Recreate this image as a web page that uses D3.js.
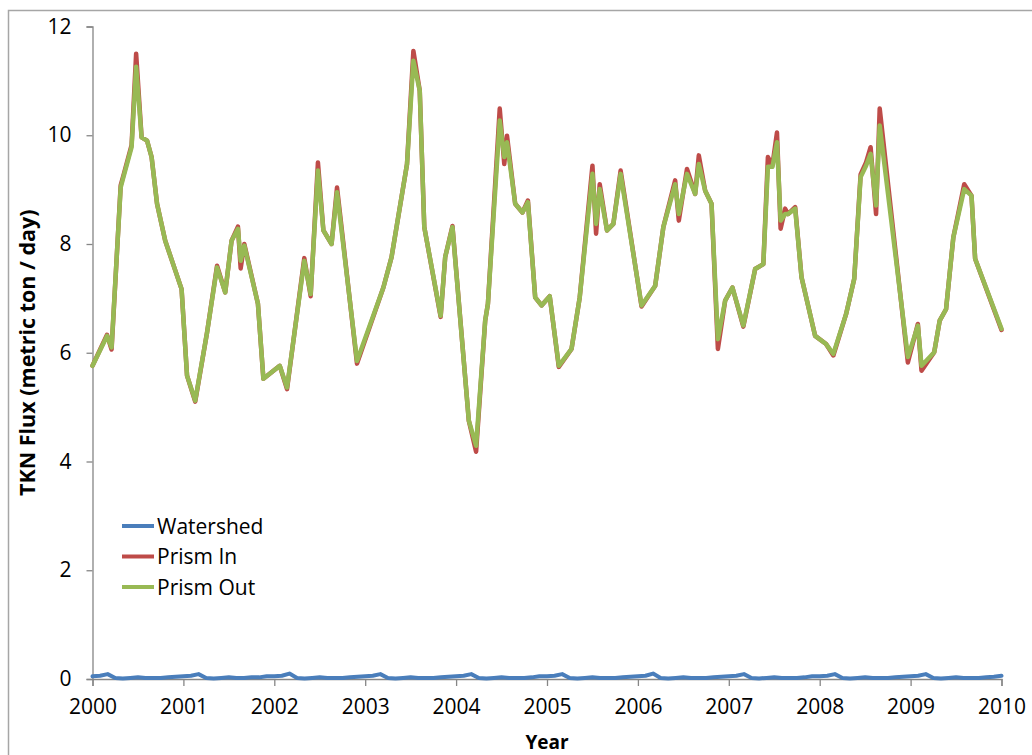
<!DOCTYPE html>
<html>
<head>
<meta charset="utf-8">
<script src="https://cdn.jsdelivr.net/npm/d3@7/dist/d3.min.js"></script>
<style>
  html, body { margin: 0; padding: 0; background: #fff; }
  svg { display: block; }
  text { font-family: "Open Sans", "Lato", sans-serif; fill: #000; }
</style>
</head>
<body>
<svg id="chart" width="1032" height="755"></svg>
<script>
// Decimal-year sample times for the Prism series
const prismDates = [
  2000.00, 2000.16, 2000.21, 2000.31, 2000.34, 2000.43, 2000.48, 2000.54, 2000.60, 2000.65,
  2000.71, 2000.80, 2000.98, 2001.04, 2001.13, 2001.26, 2001.37, 2001.46, 2001.53, 2001.60,
  2001.63, 2001.67, 2001.82, 2001.88, 2002.06, 2002.14, 2002.33, 2002.40, 2002.48, 2002.54,
  2002.63, 2002.69, 2002.91, 2003.20, 2003.29, 2003.46, 2003.53, 2003.60, 2003.65, 2003.83,
  2003.88, 2003.96, 2004.14, 2004.22, 2004.32, 2004.35, 2004.48, 2004.53, 2004.56, 2004.65,
  2004.73, 2004.79, 2004.87, 2004.94, 2005.03, 2005.13, 2005.27, 2005.36, 2005.50, 2005.54,
  2005.58, 2005.66, 2005.73, 2005.81, 2006.04, 2006.19, 2006.28, 2006.41, 2006.45, 2006.54,
  2006.63, 2006.67, 2006.74, 2006.81, 2006.88, 2006.96, 2007.04, 2007.16, 2007.29, 2007.38,
  2007.43, 2007.48, 2007.53, 2007.57, 2007.62, 2007.65, 2007.73, 2007.80, 2007.95, 2008.07,
  2008.15, 2008.29, 2008.38, 2008.45, 2008.51, 2008.56, 2008.62, 2008.66, 2008.97, 2009.08,
  2009.12, 2009.26, 2009.32, 2009.39, 2009.47, 2009.59, 2009.67, 2009.71, 2010.00
];

// TKN flux entering the prism (metric ton / day)
const prismIn = [
  5.76, 6.33, 6.06, 9.08, 9.26, 9.82, 11.50, 9.96, 9.90, 9.60,
  8.74, 8.06, 7.17, 5.58, 5.10, 6.37, 7.60, 7.11, 8.06, 8.32,
  7.55, 8.00, 6.90, 5.52, 5.76, 5.33, 7.74, 7.04, 9.50, 8.25,
  8.00, 9.04, 5.80, 7.20, 7.76, 9.47, 11.55, 10.82, 8.31, 6.66,
  7.76, 8.33, 4.75, 4.18, 6.59, 6.90, 10.49, 9.47, 9.99, 8.74,
  8.58, 8.80, 7.02, 6.87, 7.04, 5.74, 6.07, 7.02, 9.44, 8.19,
  9.10, 8.25, 8.37, 9.35, 6.85, 7.23, 8.31, 9.17, 8.43, 9.38,
  8.92, 9.63, 8.98, 8.74, 6.07, 6.96, 7.20, 6.48, 7.54, 7.63,
  9.60, 9.45, 10.05, 8.28, 8.65, 8.55, 8.68, 7.39, 6.31, 6.16,
  5.95, 6.71, 7.36, 9.28, 9.50, 9.78, 8.55, 10.49, 5.82, 6.53,
  5.67, 6.01, 6.59, 6.80, 8.12, 9.10, 8.89, 7.73, 6.42
];

// TKN flux leaving the prism (metric ton / day)
const prismOut = [
  5.76, 6.31, 6.10, 9.04, 9.23, 9.78, 11.26, 9.96, 9.90, 9.60,
  8.74, 8.06, 7.17, 5.58, 5.12, 6.37, 7.57, 7.11, 8.06, 8.28,
  7.69, 7.97, 6.90, 5.52, 5.76, 5.36, 7.69, 7.08, 9.35, 8.25,
  8.00, 8.95, 5.85, 7.20, 7.76, 9.47, 11.37, 10.82, 8.31, 6.68,
  7.76, 8.31, 4.75, 4.29, 6.59, 6.90, 10.27, 9.60, 9.87, 8.74,
  8.58, 8.77, 7.02, 6.87, 7.04, 5.76, 6.07, 7.02, 9.29, 8.37,
  9.01, 8.25, 8.37, 9.29, 6.87, 7.23, 8.31, 9.10, 8.55, 9.29,
  8.92, 9.47, 8.98, 8.74, 6.25, 6.96, 7.20, 6.50, 7.54, 7.63,
  9.42, 9.42, 9.87, 8.43, 8.55, 8.55, 8.65, 7.39, 6.31, 6.16,
  5.98, 6.71, 7.36, 9.23, 9.44, 9.66, 8.71, 10.18, 5.92, 6.50,
  5.76, 6.01, 6.59, 6.80, 8.12, 9.01, 8.89, 7.73, 6.44
];

// Monthly watershed TKN flux, January 2000 through January 2010
const watershedDates = d3.range(121).map(i => 2000 + i / 12);
const watershed = [
  0.05, 0.06, 0.09, 0.02, 0.01, 0.02, 0.03, 0.02, 0.02, 0.02, 0.03, 0.04,
  0.05, 0.06, 0.09, 0.02, 0.01, 0.02, 0.03, 0.02, 0.02, 0.03, 0.03, 0.05,
  0.05, 0.06, 0.10, 0.02, 0.01, 0.02, 0.03, 0.02, 0.02, 0.02, 0.03, 0.04,
  0.05, 0.06, 0.09, 0.02, 0.01, 0.02, 0.03, 0.02, 0.02, 0.02, 0.03, 0.04,
  0.05, 0.06, 0.09, 0.02, 0.01, 0.02, 0.03, 0.02, 0.02, 0.02, 0.03, 0.05,
  0.05, 0.06, 0.09, 0.02, 0.01, 0.02, 0.03, 0.02, 0.02, 0.02, 0.03, 0.04,
  0.05, 0.06, 0.10, 0.02, 0.01, 0.02, 0.03, 0.02, 0.02, 0.02, 0.03, 0.04,
  0.05, 0.06, 0.09, 0.02, 0.01, 0.02, 0.03, 0.02, 0.02, 0.02, 0.03, 0.05,
  0.05, 0.06, 0.09, 0.02, 0.01, 0.02, 0.03, 0.02, 0.02, 0.02, 0.03, 0.04,
  0.05, 0.06, 0.09, 0.02, 0.01, 0.02, 0.03, 0.02, 0.02, 0.02, 0.03, 0.04,
  0.06
];

const yearTicks = d3.range(2000, 2011);
const fluxTicks = [0, 2, 4, 6, 8, 10, 12];

const seriesNames = ["Watershed", "Prism In", "Prism Out"];
const seriesColors = ["#4a7ebb", "#be4b48", "#98b954"];

const svg = d3.select("#chart");
const plot = { left: 92.5, right: 1001.5, top: 26.5, bottom: 679 };

// Chart area frame
svg.append("rect")
  .attr("x", 8.5).attr("y", 10.5)
  .attr("width", 1060).attr("height", 800)
  .attr("fill", "#fff")
  .attr("stroke", "#a6a6a6").attr("stroke-width", 1.5);

const x = d3.scaleLinear().domain([2000, 2010]).range([plot.left, plot.right]);
const y = d3.scaleLinear().domain([0, 12]).range([plot.bottom, plot.top]);

// Y axis
const yAxis = svg.append("g")
  .attr("transform", `translate(${plot.left},0)`)
  .call(d3.axisLeft(y).tickValues(fluxTicks).tickSize(6).tickPadding(15).tickFormat(d3.format("d")));
yAxis.select(".domain").attr("stroke", "#868686").attr("stroke-width", 1.3);
yAxis.selectAll(".tick line").attr("stroke", "#868686").attr("stroke-width", 1.3);
yAxis.selectAll(".tick text").attr("font-size", 21).attr("fill", "#000")
  .attr("font-family", "Open Sans, Lato, sans-serif");

// X axis
const xAxis = svg.append("g")
  .attr("transform", `translate(0,${plot.bottom})`)
  .call(d3.axisBottom(x).tickValues(yearTicks).tickSize(7).tickPadding(13).tickFormat(d3.format("d")));
xAxis.select(".domain").attr("stroke", "#868686").attr("stroke-width", 1.3);
xAxis.selectAll(".tick line").attr("stroke", "#868686").attr("stroke-width", 1.3);
xAxis.selectAll(".tick text").attr("font-size", 21).attr("fill", "#000")
  .attr("font-family", "Open Sans, Lato, sans-serif");

// Axis titles
svg.append("text")
  .attr("x", (plot.left + plot.right) / 2).attr("y", 749)
  .attr("text-anchor", "middle")
  .attr("font-size", 19).attr("font-weight", "bold")
  .text("Year");

svg.append("text")
  .attr("transform", `translate(35,${(plot.top + plot.bottom) / 2}) rotate(-90)`)
  .attr("text-anchor", "middle")
  .attr("font-size", 21.5).attr("font-weight", "bold")
  .text("TKN Flux (metric ton / day)");

// Series lines
const line = d3.line().x(d => x(d[0])).y(d => y(d[1]));

const seriesData = [
  d3.zip(watershedDates, watershed),
  d3.zip(prismDates, prismIn),
  d3.zip(prismDates, prismOut)
];

seriesData.forEach((data, i) => {
  svg.append("path")
    .datum(data)
    .attr("d", line)
    .attr("fill", "none")
    .attr("stroke", seriesColors[i])
    .attr("stroke-width", i === 0 ? 4 : 4.5)
    .attr("stroke-linejoin", "round")
    .attr("stroke-linecap", "round");
});

// Legend
const legend = svg.append("g");
seriesNames.forEach((name, i) => {
  const ly = 526 + i * 30.5;
  legend.append("line")
    .attr("x1", 122).attr("x2", 154)
    .attr("y1", ly).attr("y2", ly)
    .attr("stroke", seriesColors[i]).attr("stroke-width", 4);
  legend.append("text")
    .attr("x", 157).attr("y", ly)
    .attr("dy", "0.36em")
    .attr("font-size", 21)
    .text(name);
});
</script>
</body>
</html>
